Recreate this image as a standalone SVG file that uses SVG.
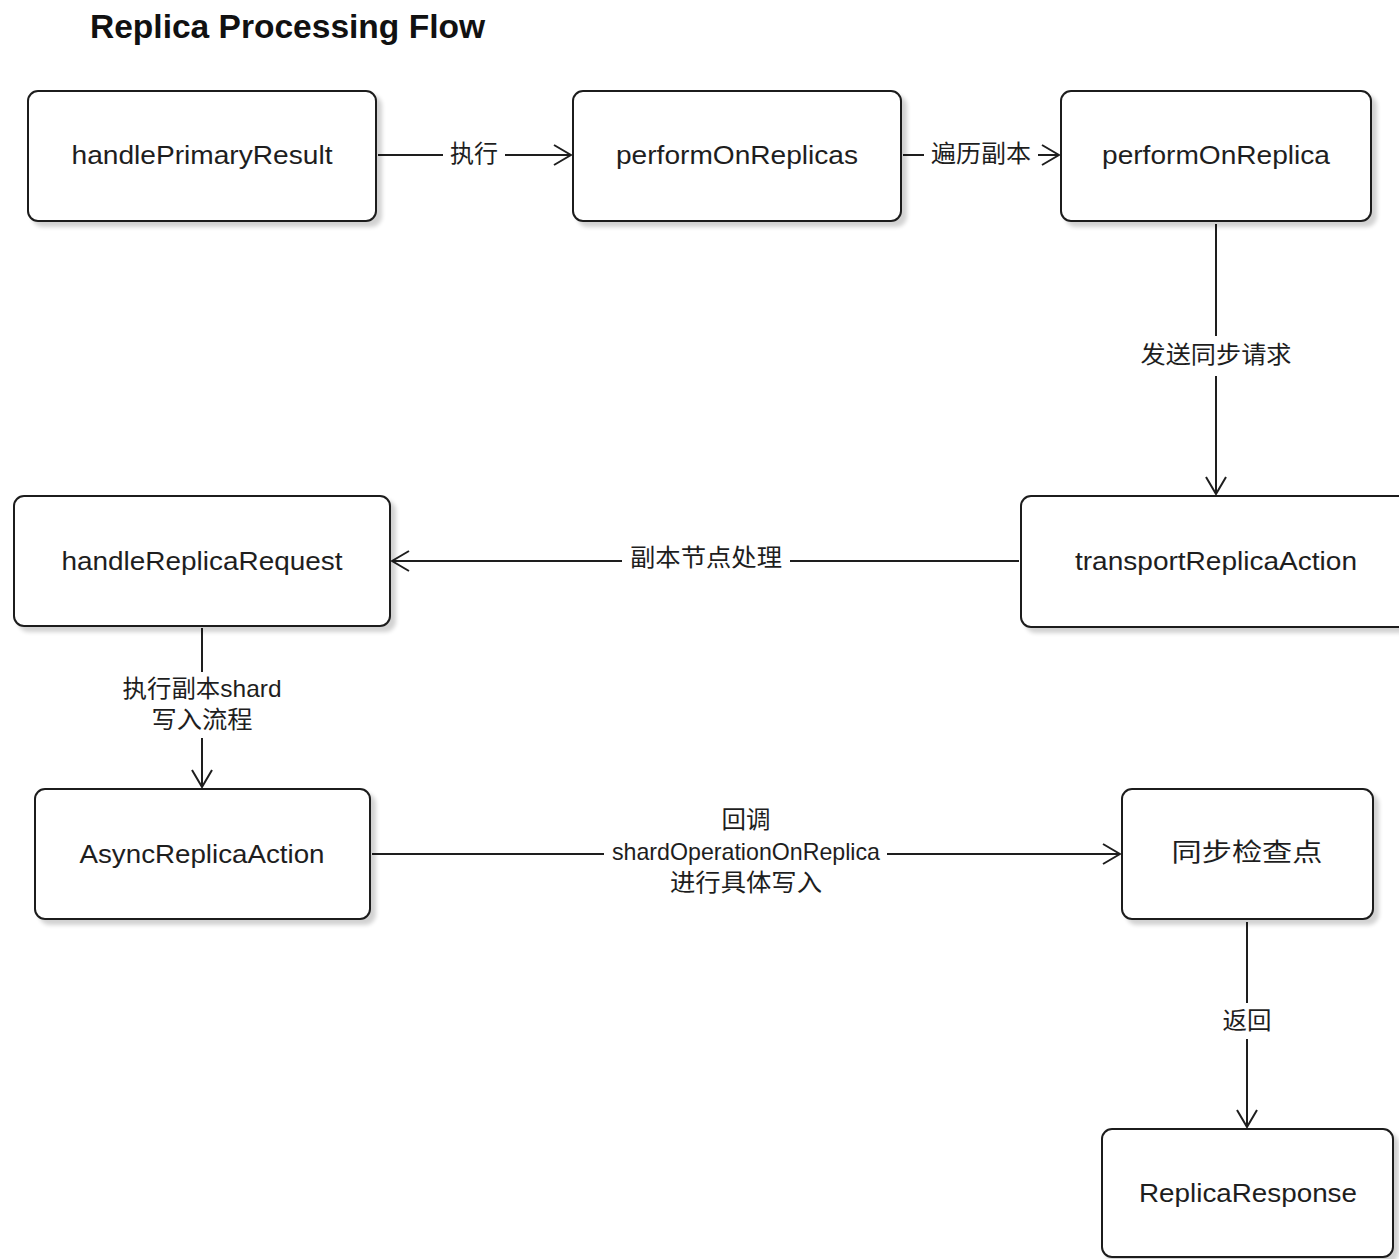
<svg xmlns="http://www.w3.org/2000/svg" width="1399" height="1259" viewBox="0 0 1399 1259">
  <style>
    .box { fill: #ffffff; stroke: #1e1e1e; stroke-width: 2; filter: url(#shadow); }
    .node-text { font-family: "Liberation Sans", "Noto Sans CJK SC", sans-serif; font-size: 25px; fill: #1e1e1e; text-anchor: middle; dominant-baseline: central; }
    .label { font-family: "Liberation Sans", "Noto Sans CJK SC", sans-serif; font-size: 24px; fill: #1e1e1e; text-anchor: middle; dominant-baseline: central; }
    .title { font-family: "Liberation Sans", "Noto Sans CJK SC", sans-serif; font-size: 34px; font-weight: bold; fill: #111111; }
    .edge { fill: none; stroke: #1e1e1e; stroke-width: 2; marker-end: url(#chevron); }
    .label-bg { fill: #ffffff; }
  </style>
  <defs>
    <filter id="shadow" x="-10%" y="-10%" width="130%" height="130%">
      <feGaussianBlur in="SourceAlpha" stdDeviation="2"/>
      <feOffset dx="5" dy="5" result="off"/>
      <feComponentTransfer><feFuncA type="linear" slope="0.18"/></feComponentTransfer>
      <feMerge><feMergeNode/><feMergeNode in="SourceGraphic"/></feMerge>
    </filter>
    <marker id="chevron" viewBox="0 0 20 22" refX="19" refY="11" markerWidth="20" markerHeight="22" markerUnits="userSpaceOnUse" orient="auto">
      <path d="M2,1 L19,11 L2,21" fill="none" stroke="#1e1e1e" stroke-width="2"/>
    </marker>
  </defs>

  <rect width="1399" height="1259" fill="#ffffff"/>

  <text class="title" x="90" y="38" textLength="395" lengthAdjust="spacingAndGlyphs">Replica Processing Flow</text>

  <!-- connectors -->
  <g id="edges">
    <path class="edge" d="M378,155 L571,155"/>
    <path class="edge" d="M903,155 L1059,155"/>
    <path class="edge" d="M1216,224 L1216,494"/>
    <path class="edge" d="M1019,561 L392,561"/>
    <path class="edge" d="M202,628 L202,787"/>
    <path class="edge" d="M372,854 L1120,854"/>
    <path class="edge" d="M1247,922 L1247,1127"/>

    <rect class="label-bg" x="443" y="138" width="62" height="30"/>
    <text class="label" x="474" y="153" textLength="48" lengthAdjust="spacingAndGlyphs">执行</text>

    <rect class="label-bg" x="924" y="138" width="114" height="30"/>
    <text class="label" x="981" y="153" textLength="100" lengthAdjust="spacingAndGlyphs">遍历副本</text>

    <rect class="label-bg" x="1134" y="336" width="164" height="40"/>
    <text class="label" x="1216" y="354" textLength="151" lengthAdjust="spacingAndGlyphs">发送同步请求</text>

    <rect class="label-bg" x="622" y="542" width="168" height="32"/>
    <text class="label" x="706" y="557" textLength="152" lengthAdjust="spacingAndGlyphs">副本节点处理</text>

    <rect class="label-bg" x="116" y="672" width="172" height="66"/>
    <text class="label" x="202" y="688" textLength="159" lengthAdjust="spacingAndGlyphs">执行副本shard</text>
    <text class="label" x="202" y="719" textLength="101" lengthAdjust="spacingAndGlyphs">写入流程</text>

    <rect class="label-bg" x="604" y="802" width="283" height="96"/>
    <text class="label" x="746" y="819" textLength="49" lengthAdjust="spacingAndGlyphs">回调</text>
    <text class="label" x="746" y="851" font-size="21" textLength="268" lengthAdjust="spacingAndGlyphs">shardOperationOnReplica</text>
    <text class="label" x="746" y="882" textLength="152" lengthAdjust="spacingAndGlyphs">进行具体写入</text>

    <rect class="label-bg" x="1217" y="1003" width="60" height="36"/>
    <text class="label" x="1247" y="1020" textLength="49" lengthAdjust="spacingAndGlyphs">返回</text>
  </g>

  <!-- nodes -->
  <g id="node-handlePrimaryResult">
    <rect class="box" x="28" y="91" width="348" height="130" rx="10"/>
    <text class="node-text" x="202" y="155" textLength="261" lengthAdjust="spacingAndGlyphs">handlePrimaryResult</text>
  </g>
  <g id="node-performOnReplicas">
    <rect class="box" x="573" y="91" width="328" height="130" rx="10"/>
    <text class="node-text" x="737" y="155" textLength="242" lengthAdjust="spacingAndGlyphs">performOnReplicas</text>
  </g>
  <g id="node-performOnReplica">
    <rect class="box" x="1061" y="91" width="310" height="130" rx="10"/>
    <text class="node-text" x="1216" y="155" textLength="228" lengthAdjust="spacingAndGlyphs">performOnReplica</text>
  </g>
  <g id="node-transportReplicaAction">
    <rect class="box" x="1021" y="496" width="392" height="131" rx="10"/>
    <text class="node-text" x="1216" y="561" textLength="282" lengthAdjust="spacingAndGlyphs">transportReplicaAction</text>
  </g>
  <g id="node-handleReplicaRequest">
    <rect class="box" x="14" y="496" width="376" height="130" rx="10"/>
    <text class="node-text" x="202" y="561" textLength="281" lengthAdjust="spacingAndGlyphs">handleReplicaRequest</text>
  </g>
  <g id="node-AsyncReplicaAction">
    <rect class="box" x="35" y="789" width="335" height="130" rx="10"/>
    <text class="node-text" x="202" y="854" textLength="245" lengthAdjust="spacingAndGlyphs">AsyncReplicaAction</text>
  </g>
  <g id="node-sync-checkpoint">
    <rect class="box" x="1122" y="789" width="251" height="130" rx="10"/>
    <text class="node-text" x="1247" y="852" font-size="30" textLength="151" lengthAdjust="spacingAndGlyphs">同步检查点</text>
  </g>
  <g id="node-ReplicaResponse">
    <rect class="box" x="1102" y="1129" width="291" height="128" rx="10"/>
    <text class="node-text" x="1248" y="1193" textLength="218" lengthAdjust="spacingAndGlyphs">ReplicaResponse</text>
  </g>
</svg>
